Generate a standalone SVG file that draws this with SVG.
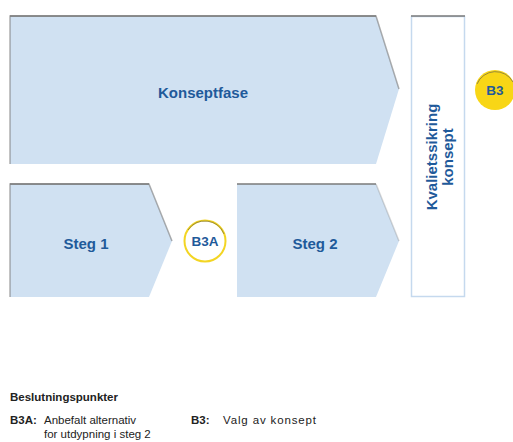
<svg xmlns="http://www.w3.org/2000/svg" width="513" height="442" viewBox="0 0 513 442">
<style>
.phase{fill:#d0e1f2;stroke:none}
.edge{fill:none;stroke:#7a7a7a;stroke-width:1.5}
.lbl{font-family:"Liberation Sans",Arial,sans-serif;font-weight:bold;fill:#1f5a9a;text-anchor:middle}
.big{font-size:15px}
.small{font-family:"Liberation Sans",Arial,sans-serif;font-size:11.5px;fill:#222}
.b{font-weight:bold}
</style>
<rect width="513" height="442" fill="#ffffff"/>
<g id="konseptfase">
<polygon class="phase" points="10,16 376,16 399,89 376,164 10,164"/>
<polyline class="edge" points="10,164 10,16 376,16 399,89" stroke-opacity="0.6"/>
<line class="edge" x1="10" y1="16" x2="376" y2="16"/>
<text class="lbl big" x="203" y="98">Konseptfase</text>
</g>
<g id="kvalitetssikring">
<rect x="411.5" y="16.5" width="53" height="280" fill="#ffffff" stroke="#c5d9ee" stroke-width="1.5"/>
<line class="edge" x1="411" y1="16" x2="465" y2="16"/>
<text class="lbl big" transform="translate(437,157) rotate(-90)">Kvalietssikring</text>
<text class="lbl big" transform="translate(453,157) rotate(-90)">konsept</text>
</g>
<g id="b3">
<circle cx="495" cy="90" r="20" fill="#f8d616"/>
<path d="M477,84 A20,20 0 0 1 513,82" fill="none" stroke="#555" stroke-width="1" stroke-opacity="0.6"/>
<text class="lbl" x="495" y="95" font-size="13.5" fill="#1f4f8a">B3</text>
</g>
<g id="steg1">
<polygon class="phase" points="10,184 149,184 172,241 149,297 10,297"/>
<polyline class="edge" points="10,297 10,184 149,184 172,241" stroke-opacity="0.6"/>
<line class="edge" x1="10" y1="184" x2="149" y2="184"/>
<text class="lbl big" x="86" y="249">Steg 1</text>
</g>
<g id="b3a">
<circle cx="205" cy="241" r="20.5" fill="#ffffff" stroke="#f3d523" stroke-width="2"/>
<path d="M188,230 A20.5,20.5 0 0 1 224,234" fill="none" stroke="#444" stroke-width="1" stroke-opacity="0.5"/>
<text class="lbl" x="205" y="246" font-size="13.5">B3A</text>
</g>
<g id="steg2">
<polygon class="phase" points="237,184 376,184 399,241 376,297 237,297"/>
<line class="edge" x1="237" y1="184" x2="376" y2="184"/>
<line class="edge" x1="376" y1="184" x2="399" y2="241" stroke-opacity="0.3"/>
<text class="lbl big" x="315" y="249">Steg 2</text>
</g>
<g id="connectors"></g>
<g id="legend">
<text class="small b" x="10" y="401" font-size="12.5">Beslutningspunkter</text>
<text class="small b" x="10" y="424">B3A:</text>
<text class="small" x="44" y="424">Anbefalt alternativ</text>
<text class="small" x="44" y="438">for utdypning i steg 2</text>
<text class="small b" x="191" y="424">B3:</text>
<text class="small" x="223" y="424" textLength="93" lengthAdjust="spacing">Valg av konsept</text>
</g>
</svg>
